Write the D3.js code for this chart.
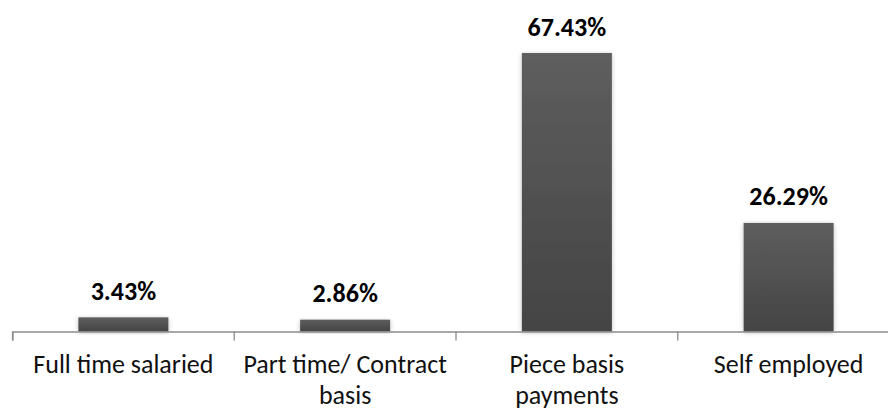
<!DOCTYPE html>
<html>
<head>
<meta charset="utf-8">
<script src="https://cdn.jsdelivr.net/npm/d3@7"></script>
<style>
  html, body { margin: 0; padding: 0; background: #fff; }
  svg { display: block; }
  text { font-family: Carlito, Calibri, Lato, "Liberation Sans", sans-serif; }
</style>
</head>
<body>
<svg id="chart" width="888" height="410"></svg>
<script>
// Employment type shares (%)
const categories = ["Full time salaried", "Part time/ Contract basis", "Piece basis payments", "Self employed"];
const categoryLines = [["Full time salaried"], ["Part time/ Contract", "basis"], ["Piece basis", "payments"], ["Self employed"]];
const values = [3.43, 2.86, 67.43, 26.29];
const valueLabels = ["3.43%", "2.86%", "67.43%", "26.29%"];

const W = 888, H = 410;
const svg = d3.select("#chart");

const baseY = 331.5;
const x = d3.scaleBand().domain(categories).range([12.5, 899.5]).paddingInner(0).paddingOuter(0);
const y = d3.scaleLinear().domain([0, 80]).range([baseY, baseY - 80 * 4.13]);

const defs = svg.append("defs");
const grad = defs.append("linearGradient")
  .attr("id", "barGrad").attr("x1", 0).attr("y1", 0).attr("x2", 0).attr("y2", 1);
grad.append("stop").attr("offset", "0%").attr("stop-color", "#5e5e5e");
grad.append("stop").attr("offset", "100%").attr("stop-color", "#444444");

const shadow = defs.append("filter").attr("id", "barShadow")
  .attr("x", "-20%").attr("y", "-20%").attr("width", "140%").attr("height", "140%");
shadow.append("feGaussianBlur").attr("in", "SourceAlpha").attr("stdDeviation", 2.5).attr("result", "blur");
shadow.append("feOffset").attr("in", "blur").attr("dx", 0).attr("dy", 1).attr("result", "off");
shadow.append("feComponentTransfer").attr("in", "off").attr("result", "soft")
  .append("feFuncA").attr("type", "linear").attr("slope", 0.25);
const merge = shadow.append("feMerge");
merge.append("feMergeNode").attr("in", "soft");
merge.append("feMergeNode").attr("in", "SourceGraphic");

const barW = 90;

// bars
svg.append("g").selectAll("rect")
  .data(values)
  .join("rect")
  .attr("x", (d, i) => x(categories[i]) + x.bandwidth() / 2 - barW / 2)
  .attr("y", d => y(d))
  .attr("width", barW)
  .attr("height", d => baseY - y(d))
  .attr("fill", "url(#barGrad)")
  .attr("filter", "url(#barShadow)");

// category axis, ticks between categories
const axis = d3.axisBottom(x).tickSize(9).tickFormat("").tickSizeOuter(9);
const gAxis = svg.append("g").attr("transform", `translate(0,${baseY})`).call(axis);
gAxis.select(".domain").attr("stroke", "#8c8c8c").attr("stroke-width", 1.3);
gAxis.selectAll(".tick line")
  .attr("stroke", "#8c8c8c").attr("stroke-width", 1.3)
  .attr("transform", `translate(${-x.bandwidth() / 2},0)`);

// category labels (wrapped)
const labels = svg.append("g").selectAll("text")
  .data(categories)
  .join("text")
  .attr("x", d => x(d) + x.bandwidth() / 2)
  .attr("y", 373)
  .attr("text-anchor", "middle")
  .attr("font-size", 26)
  .attr("fill", "#111");
labels.each(function (d, i) {
  const t = d3.select(this);
  categoryLines[i].forEach((line, j) => {
    t.append("tspan")
      .attr("x", x(d) + x.bandwidth() / 2)
      .attr("dy", j === 0 ? 0 : 31.3)
      .text(line);
  });
});

// value labels above bars
svg.append("g").selectAll("text")
  .data(values)
  .join("text")
  .attr("x", (d, i) => x(categories[i]) + x.bandwidth() / 2)
  .attr("y", d => y(d) - 17.5)
  .attr("text-anchor", "middle")
  .attr("font-size", 26)
  .attr("font-weight", "bold")
  .attr("fill", "#000")
  .text((d, i) => valueLabels[i]);
</script>
</body>
</html>
